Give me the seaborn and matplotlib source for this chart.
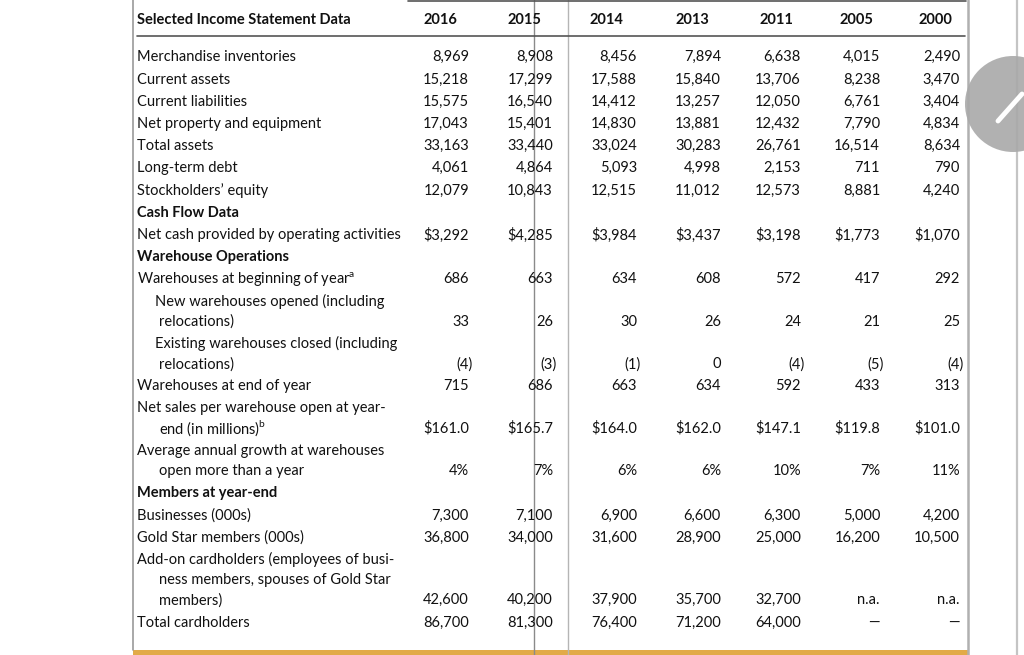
import matplotlib
matplotlib.use("Agg")
import matplotlib.pyplot as plt
from matplotlib.patches import Circle
import seaborn as sns

# column headers
years = ["2016", "2015", "2014", "2013", "2011", "2005", "2000"]

# row values (None = dash, strings kept as printed)
merch_inventories = [8969, 8908, 8456, 7894, 6638, 4015, 2490]
current_assets = [15218, 17299, 17588, 15840, 13706, 8238, 3470]
current_liabilities = [15575, 16540, 14412, 13257, 12050, 6761, 3404]
net_property = [17043, 15401, 14830, 13881, 12432, 7790, 4834]
total_assets = [33163, 33440, 33024, 30283, 26761, 16514, 8634]
long_term_debt = [4061, 4864, 5093, 4998, 2153, 711, 790]
stock_equity = [12079, 10843, 12515, 11012, 12573, 8881, 4240]
net_cash_ops = [3292, 4285, 3984, 3437, 3198, 1773, 1070]
wh_begin = [686, 663, 634, 608, 572, 417, 292]
wh_opened = [33, 26, 30, 26, 24, 21, 25]
wh_closed = [-4, -3, -1, 0, -4, -5, -4]
wh_end = [715, 686, 663, 634, 592, 433, 313]
sales_per_wh = [161.0, 165.7, 164.0, 162.0, 147.1, 119.8, 101.0]
avg_growth = [4, 7, 6, 6, 10, 7, 11]
businesses = [7300, 7100, 6900, 6600, 6300, 5000, 4200]
gold_star = [36800, 34000, 31600, 28900, 25000, 16200, 10500]
addon_holders = [42600, 40200, 37900, 35700, 32700, "n.a.", "n.a."]
total_holders = [86700, 81300, 76400, 71200, 64000, None, None]


def fmt_int(v):
    if v is None:
        return "\u2014"
    if isinstance(v, str):
        return v
    if v < 0:
        return "({:,})".format(-v)
    return "{:,}".format(v)


def fmt_dollar(v):
    return "$" + "{:,}".format(v)


def fmt_dollar1(v):
    return "$" + "{:.1f}".format(v)


def fmt_pct(v):
    return "{}%".format(v)


# (label text, kind, values, formatter)
# kind: n = normal row, b = bold section, s = sub item, c = wrapped continuation
rows = [
    ("Merchandise inventories", "n", merch_inventories, fmt_int),
    ("Current assets", "n", current_assets, fmt_int),
    ("Current liabilities", "n", current_liabilities, fmt_int),
    ("Net property and equipment", "n", net_property, fmt_int),
    ("Total assets", "n", total_assets, fmt_int),
    ("Long-term debt", "n", long_term_debt, fmt_int),
    ("Stockholders\u2019 equity", "n", stock_equity, fmt_int),
    ("Cash Flow Data", "b", None, None),
    ("Net cash provided by operating activities", "n", net_cash_ops, fmt_dollar),
    ("Warehouse Operations", "b", None, None),
    (r"Warehouses at beginning of year$^{\rm a}$", "n", wh_begin, fmt_int),
    ("New warehouses opened (including", "s", None, None),
    ("relocations)", "c", wh_opened, fmt_int),
    ("Existing warehouses closed (including", "s", None, None),
    ("relocations)", "c", wh_closed, fmt_int),
    ("Warehouses at end of year", "n", wh_end, fmt_int),
    ("Net sales per warehouse open at year-", "n", None, None),
    (r"end (in millions)$^{\rm b}$", "c", sales_per_wh, fmt_dollar1),
    ("Average annual growth at warehouses", "n", None, None),
    ("open more than a year", "c", avg_growth, fmt_pct),
    ("Members at year-end", "b", None, None),
    ("Businesses (000s)", "n", businesses, fmt_int),
    ("Gold Star members (000s)", "n", gold_star, fmt_int),
    ("Add-on cardholders (employees of busi-", "n", None, None),
    ("ness members, spouses of Gold Star", "c", None, None),
    ("members)", "c", addon_holders, fmt_int),
    ("Total cardholders", "n", total_holders, fmt_int),
]

sns.set_theme(style="white")
plt.rcParams["font.family"] = ["Lato", "DejaVu Sans"]
plt.rcParams["mathtext.fontset"] = "custom"
plt.rcParams["mathtext.rm"] = "Lato"

fig = plt.figure(figsize=(10.24, 6.55), dpi=100)
ax = fig.add_axes([0, 0, 1, 1])
ax.set_xlim(0, 1024)
ax.set_ylim(655, 0)
ax.axis("off")

txt = "#111111"
fs = 10.5
col_right = [469, 553, 637, 721, 801, 880, 960]
head_center = [440, 524, 606, 692, 776, 856, 935]

# frame lines
ax.plot([133, 133], [0, 650], color="#9a9a9a", lw=1.2)
ax.plot([534, 534], [0, 655], color="#8a8a8a", lw=1.0)
ax.plot([568, 568], [0, 655], color="#b5b5b5", lw=1.0)
ax.plot([968, 968], [0, 655], color="#b0b0b0", lw=1.8)
ax.plot([1017, 1017], [0, 655], color="#c4c4c4", lw=1.6)
ax.plot([408, 966], [1, 1], color="#555555", lw=1.2)
ax.plot([137, 965], [36, 36], color="#555555", lw=1.2)
ax.fill_between([133, 968], 650, 656, color="#e2aa48", lw=0)

# header
ax.text(137, 20, "Selected Income Statement Data", fontsize=fs, fontweight="bold",
        color=txt, ha="left", va="center")
for yr, xc in zip(years, head_center):
    ax.text(xc, 20, yr, fontsize=fs, fontweight="bold", color=txt,
            ha="center", va="center")

# body
y = 57.3
for i, (label, kind, vals, fmt) in enumerate(rows):
    if i > 0:
        y += 20.2 if kind == "c" else 22.2
    x = {"n": 137, "b": 137, "s": 155, "c": 159}[kind]
    ax.text(x, y, label, fontsize=fs, color=txt, ha="left", va="center",
            fontweight="bold" if kind == "b" else "normal")
    if vals is None:
        continue
    for v, xr in zip(vals, col_right):
        s = fmt(v)
        off = 4 if s.endswith(")") else 0
        ax.text(xr + off, y, s, fontsize=fs, color=txt, ha="right", va="center")

# edit badge on the right
ax.add_patch(Circle((1013, 104), 48, color="#a9a9a9", alpha=0.9, lw=0, zorder=3))
ax.plot([998, 1022], [121, 94], color="white", lw=3.5, solid_capstyle="round", zorder=4)

fig.savefig("out.png", dpi=100, facecolor="white")
